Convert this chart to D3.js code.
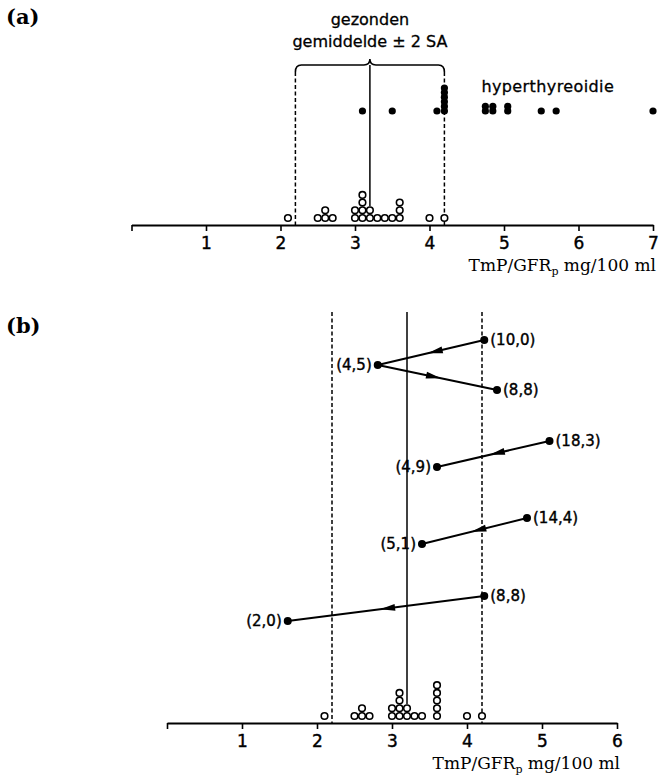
<!DOCTYPE html>
<html><head><meta charset="utf-8">
<script src="https://cdn.jsdelivr.net/npm/d3@7"></script>
<style>body{margin:0;background:#fff}</style>
</head><body><svg id="c" width="659" height="778"></svg>
<script>
// ---------- data ----------
const ticksA = [0, 1, 2, 3, 4, 5, 6, 7];
const ticksB = [0, 1, 2, 3, 4, 5, 6];
const healthyMean = 3.2;
const healthy2SD = 1.0;
// healthy subjects (open circles), one entry per subject
const healthyA = [2.1, 2.5, 2.6, 2.6, 2.7, 3.0, 3.0, 3.1, 3.1, 3.1, 3.1, 3.2, 3.2, 3.3, 3.4, 3.5, 3.6, 3.6, 3.6, 4.0, 4.2];
const healthyB = [2.1, 2.5, 2.6, 2.6, 2.7, 3.0, 3.0, 3.1, 3.1, 3.1, 3.1, 3.2, 3.2, 3.3, 3.4, 3.6, 3.6, 3.6, 3.6, 3.6, 4.0, 4.2];
// hyperthyroid patients (filled dots), one entry per patient
const hyperA = [3.1, 3.5, 4.1, 4.2, 4.2, 4.2, 4.2, 4.2, 4.2, 4.75, 4.75, 4.85, 4.85, 5.05, 5.05, 5.5, 5.7, 7.0];
// panel (b): follow-up of individual patients (TmP/GFR values, vertical level, labels)
const seriesTmP = [[4.23, 2.81, 4.4], [5.1, 3.6], [4.8, 3.4], [4.23, 1.61]];
const seriesLevel = [[38.3, 35.8, 33.3], [28.2, 25.6], [20.5, 17.9], [12.7, 10.2]];
const seriesLabels = [["(10,0)", "(4,5)", "(8,8)"], ["(18,3)", "(4,9)"], ["(14,4)", "(5,1)"], ["(8,8)", "(2,0)"]];
const axisTitle = ["TmP/GFR", "p", " mg/100 ml"];

// ---------- drawing ----------
const svg = d3.select("#c");
const SANS = "'DejaVu Sans', sans-serif";
const SERIF = "'DejaVu Serif', serif";

function stackIndex(vals) {
  const cnt = new Map();
  return vals.map(v => { const k = cnt.get(v) || 0; cnt.set(v, k + 1); return { v, k }; });
}

function drawAxis(g, x, ticks, axisY) {
  const ax = d3.axisBottom(x).tickValues(ticks).tickSize(6).tickSizeOuter(0)
    .tickFormat(d => d === 0 ? "" : d);
  const a = g.append("g").attr("transform", `translate(0,${axisY})`).call(ax);
  a.select(".domain").attr("stroke", "#000").attr("stroke-width", 2);
  a.selectAll(".tick line").attr("stroke", "#000").attr("stroke-width", 1.6);
  a.selectAll(".tick text").attr("font-family", SANS).attr("font-size", 17)
    .attr("fill", "#000").attr("stroke", "#000").attr("stroke-width", 0.4).attr("y", 12);
  const r = x.range()[1];
  const t = g.append("text").attr("x", r + 3).attr("y", axisY + 46)
    .attr("text-anchor", "end").attr("font-family", SERIF).attr("font-size", 17).attr("fill", "#000");
  t.append("tspan").text(axisTitle[0]);
  t.append("tspan").attr("font-size", 11).attr("dy", 4).text(axisTitle[1]);
  t.append("tspan").attr("dy", -4).text(axisTitle[2]);
}

function drawOpen(g, x, vals, axisY) {
  g.selectAll(null).data(stackIndex(vals)).enter().append("circle")
    .attr("cx", d => x(d.v)).attr("cy", d => axisY - 7 - d.k * 7.7)
    .attr("r", 3.3).attr("fill", "#fff").attr("stroke", "#000").attr("stroke-width", 1.6);
}

// ---------- panel (a) ----------
const gA = svg.append("g");
const xA = d3.scaleLinear().domain([0, 7]).range([131.5, 653]);
const axisYA = 225;
const yA = d3.scaleLinear().domain([0, 16]).range([axisYA, 65]);

gA.append("text").attr("x", 6).attr("y", 24).attr("font-family", SERIF).attr("font-weight", "bold")
  .attr("font-size", 21).text("(a)");

const lo = healthyMean - healthy2SD, hi = healthyMean + healthy2SD;
// bracket
const bx0 = xA(lo), bx1 = xA(hi), bm = xA(healthyMean), by = yA(16), bp = by - 6;
gA.append("path").attr("fill", "none").attr("stroke", "#000").attr("stroke-width", 1.6)
  .attr("d", `M${bx0},${by + 7} Q${bx0},${by} ${bx0 + 6},${by} L${bm - 6},${by} Q${bm},${by} ${bm},${bp} Q${bm},${by} ${bm + 6},${by} L${bx1 - 6},${by} Q${bx1},${by} ${bx1},${by + 7}`);
[lo, hi].forEach(v => gA.append("line").attr("x1", xA(v)).attr("x2", xA(v))
  .attr("y1", yA(15.3)).attr("y2", axisYA).attr("stroke", "#000").attr("stroke-width", 1.5)
  .attr("stroke-dasharray", "4,2.5"));
const colA = healthyA.filter(v => v === healthyMean).length;
gA.append("line").attr("x1", xA(healthyMean)).attr("x2", xA(healthyMean))
  .attr("y1", by).attr("y2", axisYA - 7 - (colA - 1) * 7.7 - 4).attr("stroke", "#000").attr("stroke-width", 1.5);

gA.append("text").attr("x", bm).attr("y", 25).attr("text-anchor", "middle")
  .attr("font-family", SANS).attr("font-size", 16).attr("stroke", "#000").attr("stroke-width", 0.3).text("gezonden");
gA.append("text").attr("x", bm).attr("y", 47).attr("text-anchor", "middle")
  .attr("font-family", SANS).attr("font-size", 16).attr("stroke", "#000").attr("stroke-width", 0.3).text("gemiddelde ± 2 SA");
gA.append("text").attr("x", xA(4.75) - 4).attr("y", 92)
  .attr("font-family", SANS).attr("font-size", 16).attr("letter-spacing", 0.4)
  .attr("stroke", "#000").attr("stroke-width", 0.3).text("hyperthyreoidie");

gA.selectAll(null).data(stackIndex(hyperA)).enter().append("circle")
  .attr("cx", d => xA(d.v)).attr("cy", d => yA(11.4) - d.k * 4.6)
  .attr("r", 3.6).attr("fill", "#000");

drawOpen(gA, xA, healthyA, axisYA);
drawAxis(gA, xA, ticksA, axisYA);

// ---------- panel (b) ----------
const gB = svg.append("g");
const xB = d3.scaleLinear().domain([0, 6]).range([167, 617]);
const axisYB = 723;
const yB = d3.scaleLinear().domain([0, 41.1]).range([axisYB, 312]);

gB.append("text").attr("x", 6).attr("y", 333).attr("font-family", SERIF).attr("font-weight", "bold")
  .attr("font-size", 21).text("(b)");

[lo, hi].forEach(v => gB.append("line").attr("x1", xB(v)).attr("x2", xB(v))
  .attr("y1", yB(41.1)).attr("y2", axisYB).attr("stroke", "#000").attr("stroke-width", 1.5)
  .attr("stroke-dasharray", "4,2.5"));
const colB = healthyB.filter(v => v === healthyMean).length;
gB.append("line").attr("x1", xB(healthyMean)).attr("x2", xB(healthyMean))
  .attr("y1", yB(41.1)).attr("y2", axisYB - 7 - (colB - 1) * 7.7 - 4).attr("stroke", "#000").attr("stroke-width", 1.5);

seriesTmP.forEach((vals, i) => {
  const pts = vals.map((v, j) => ({ x: xB(v), y: yB(seriesLevel[i][j]), label: seriesLabels[i][j], v }));
  const minV = d3.min(vals);
  for (let j = 0; j < pts.length - 1; j++) {
    const p = pts[j], q = pts[j + 1];
    gB.append("line").attr("x1", p.x).attr("y1", p.y).attr("x2", q.x).attr("y2", q.y)
      .attr("stroke", "#000").attr("stroke-width", 2);
    const ang = Math.atan2(q.y - p.y, q.x - p.x);
    const tx = p.x + (q.x - p.x) * 0.53, ty = p.y + (q.y - p.y) * 0.53;
    const L = 15, W = 3.5;
    const bxp = tx - L * Math.cos(ang), byp = ty - L * Math.sin(ang);
    const nx = -Math.sin(ang) * W, ny = Math.cos(ang) * W;
    gB.append("path").attr("fill", "#000")
      .attr("d", `M${tx},${ty} L${bxp + nx},${byp + ny} L${bxp - nx},${byp - ny} Z`);
  }
  gB.selectAll(null).data(pts).enter().append("circle")
    .attr("cx", d => d.x).attr("cy", d => d.y).attr("r", 4).attr("fill", "#000");
  gB.selectAll(null).data(pts).enter().append("text")
    .attr("x", d => d.v === minV ? d.x - 6 : d.x + 6).attr("y", d => d.y + 5)
    .attr("text-anchor", d => d.v === minV ? "end" : "start")
    .attr("font-family", SANS).attr("font-size", 15).attr("stroke", "#000").attr("stroke-width", 0.4)
    .text(d => d.label);
});

drawOpen(gB, xB, healthyB, axisYB);
drawAxis(gB, xB, ticksB, axisYB);
</script></body></html>
